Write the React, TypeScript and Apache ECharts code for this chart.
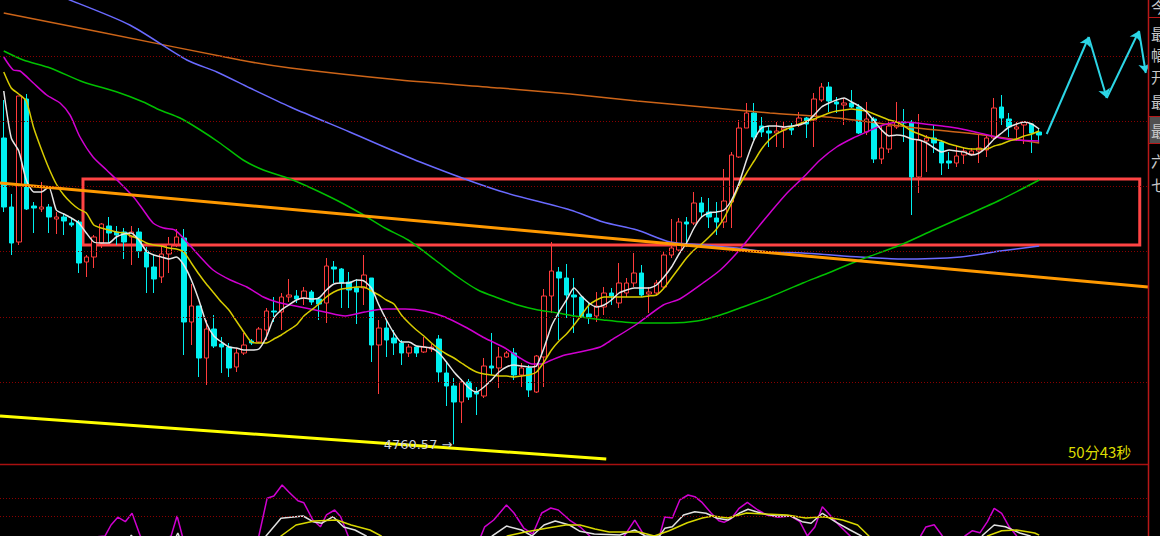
import React, { useEffect, useRef } from "react";
import * as echarts from "echarts";

const SLOTS = 153;
const categories = Array.from({ length: SLOTS }, (_, i) => String(i + 1));

// [open, close, low, high]
const candles = [
  [4791.2, 4784.3, 4783.8, 4795.0], [4784.3, 4780.7, 4779.5, 4785.6], [4780.8, 4795.4, 4780.5, 4795.4], [4795.1, 4784.1, 4784.0, 4795.6],
  [4784.4, 4784.2, 4781.7, 4784.8], [4784.1, 4784.3, 4783.8, 4786.8], [4784.3, 4783.3, 4781.7, 4784.6], [4783.1, 4783.3, 4781.6, 4783.8],
  [4783.3, 4782.9, 4781.5, 4783.7], [4782.7, 4782.5, 4782.3, 4783.2], [4782.8, 4778.7, 4777.7, 4783.0], [4778.8, 4779.3, 4777.3, 4779.5],
  [4779.3, 4781.3, 4778.2, 4781.5], [4780.7, 4782.6, 4780.2, 4782.7], [4782.4, 4781.7, 4780.7, 4783.3], [4781.8, 4781.5, 4780.5, 4782.4],
  [4781.8, 4780.8, 4779.1, 4782.2], [4781.3, 4781.8, 4778.5, 4782.4], [4781.8, 4779.9, 4779.2, 4782.2], [4779.9, 4778.3, 4775.7, 4780.3],
  [4778.3, 4777.1, 4775.7, 4779.5], [4777.3, 4779.6, 4776.7, 4780.5], [4779.6, 4780.5, 4777.7, 4781.3], [4780.6, 4781.3, 4780.3, 4782.1],
  [4781.2, 4772.8, 4769.5, 4782.1], [4772.8, 4774.4, 4770.5, 4776.6], [4774.4, 4769.2, 4767.3, 4774.4], [4769.2, 4772.1, 4766.5, 4773.0],
  [4772.1, 4770.4, 4770.2, 4773.5], [4770.6, 4770.3, 4767.7, 4771.3], [4770.3, 4768.2, 4767.3, 4770.7], [4768.3, 4769.7, 4767.8, 4770.2],
  [4769.7, 4770.5, 4769.5, 4771.7], [4770.9, 4770.7, 4770.5, 4771.1], [4770.8, 4772.1, 4770.7, 4772.3], [4772.0, 4773.9, 4771.0, 4774.2],
  [4773.9, 4773.8, 4772.8, 4775.3], [4773.8, 4775.3, 4772.0, 4775.7], [4775.3, 4775.5, 4774.8, 4777.1], [4775.4, 4775.1, 4774.7, 4776.0],
  [4775.2, 4775.9, 4774.5, 4776.3], [4775.8, 4774.8, 4774.5, 4776.0], [4775.1, 4774.6, 4773.0, 4775.3], [4774.7, 4778.4, 4772.7, 4779.2],
  [4778.3, 4778.1, 4776.7, 4778.9], [4778.1, 4776.7, 4774.2, 4778.2], [4776.8, 4776.0, 4774.2, 4777.8], [4776.2, 4775.8, 4772.6, 4777.1],
  [4776.2, 4777.5, 4774.5, 4779.5], [4777.2, 4770.5, 4768.8, 4777.2], [4770.5, 4772.2, 4765.6, 4773.0], [4772.2, 4771.0, 4769.3, 4773.0],
  [4771.2, 4770.7, 4769.5, 4772.0], [4770.7, 4769.7, 4768.5, 4771.0], [4769.7, 4770.3, 4769.3, 4770.6], [4770.3, 4769.7, 4769.3, 4770.3],
  [4769.8, 4770.3, 4769.7, 4771.3], [4770.1, 4770.3, 4769.8, 4770.6], [4771.1, 4767.8, 4766.8, 4771.5], [4767.7, 4766.4, 4764.4, 4768.8],
  [4766.4, 4764.8, 4760.57, 4767.2], [4764.8, 4766.8, 4762.7, 4767.1], [4766.8, 4765.3, 4765.0, 4767.1], [4765.8, 4765.6, 4763.5, 4766.3],
  [4765.4, 4768.4, 4765.2, 4769.2], [4768.4, 4768.2, 4767.5, 4771.7], [4768.2, 4769.3, 4766.2, 4770.3], [4769.3, 4769.7, 4769.2, 4769.9],
  [4769.7, 4767.5, 4767.0, 4770.2], [4767.5, 4768.2, 4766.3, 4768.7], [4768.2, 4766.0, 4765.3, 4768.5], [4765.8, 4769.4, 4765.7, 4769.5],
  [4769.3, 4775.4, 4766.3, 4776.1], [4775.4, 4777.9, 4773.7, 4780.8], [4777.8, 4777.2, 4771.0, 4778.3], [4777.2, 4775.5, 4773.2, 4778.6],
  [4775.5, 4775.3, 4771.7, 4777.2], [4775.3, 4773.3, 4773.2, 4775.4], [4773.6, 4773.3, 4772.6, 4774.7], [4773.4, 4774.4, 4772.8, 4775.8],
  [4774.3, 4775.7, 4773.5, 4776.3], [4775.7, 4775.4, 4774.5, 4776.2], [4774.7, 4776.7, 4774.2, 4778.7], [4775.7, 4776.7, 4775.3, 4777.2],
  [4776.7, 4777.7, 4776.3, 4779.7], [4777.7, 4775.5, 4775.3, 4778.5], [4775.6, 4775.8, 4773.7, 4776.3], [4775.7, 4776.7, 4775.5, 4777.0],
  [4776.3, 4779.5, 4776.2, 4779.8], [4779.5, 4780.2, 4779.2, 4783.1], [4780.0, 4782.8, 4779.8, 4783.2], [4782.8, 4782.6, 4780.3, 4783.3],
  [4782.7, 4784.7, 4782.5, 4785.8], [4784.7, 4783.8, 4783.3, 4785.3], [4783.8, 4783.3, 4782.2, 4785.2], [4783.2, 4782.8, 4781.5, 4784.8],
  [4782.8, 4784.9, 4782.2, 4788.1], [4784.8, 4789.5, 4782.2, 4789.8], [4789.3, 4792.2, 4789.2, 4793.0], [4792.2, 4793.7, 4792.2, 4794.7],
  [4793.7, 4791.3, 4791.0, 4794.7], [4792.4, 4791.8, 4791.3, 4793.3], [4791.9, 4791.7, 4790.3, 4792.4], [4791.7, 4791.9, 4790.3, 4792.8],
  [4792.0, 4792.2, 4790.2, 4792.8], [4792.2, 4792.0, 4791.5, 4792.7], [4792.5, 4793.2, 4792.3, 4793.8], [4793.2, 4792.6, 4791.2, 4793.3],
  [4793.0, 4795.1, 4790.3, 4795.7], [4795.0, 4796.3, 4794.8, 4796.7], [4796.3, 4794.9, 4793.8, 4796.8], [4794.8, 4794.6, 4793.7, 4795.3],
  [4794.5, 4794.7, 4792.5, 4795.2], [4794.7, 4794.3, 4794.2, 4796.0], [4794.3, 4791.7, 4791.6, 4794.6], [4791.8, 4793.1, 4791.5, 4794.8],
  [4793.1, 4789.1, 4788.7, 4793.3], [4789.1, 4790.2, 4788.6, 4792.5], [4790.1, 4792.4, 4789.7, 4793.0], [4792.3, 4792.8, 4792.1, 4794.8],
  [4792.8, 4792.7, 4790.8, 4794.1], [4792.8, 4787.3, 4783.5, 4793.0], [4787.3, 4791.0, 4785.7, 4793.6], [4790.9, 4791.2, 4787.8, 4791.5],
  [4791.2, 4790.7, 4789.7, 4792.5], [4790.8, 4788.7, 4787.5, 4791.0], [4788.9, 4788.7, 4788.1, 4789.8], [4788.7, 4789.4, 4788.3, 4790.4],
  [4789.5, 4789.9, 4788.6, 4790.3], [4789.6, 4789.9, 4789.4, 4790.2], [4789.9, 4790.2, 4788.7, 4791.5], [4790.0, 4791.2, 4789.3, 4791.5],
  [4791.2, 4794.2, 4791.0, 4795.2], [4794.3, 4793.2, 4792.5, 4795.5], [4793.1, 4792.3, 4791.3, 4793.7], [4792.1, 4792.3, 4790.9, 4792.8],
  [4792.5, 4792.8, 4790.6, 4792.9], [4792.6, 4791.7, 4789.7, 4792.7], [4791.8, 4791.5, 4790.7, 4792.1],
];

const ma5 = [
  4795.9, 4791.2, 4789.9, 4787.0, 4785.8, 4785.8, 4786.3, 4784.0, 4783.6, 4783.2,
  4782.7, 4781.7, 4780.8, 4780.7, 4780.7, 4781.3, 4781.6, 4781.7, 4781.0, 4779.9,
  4779.5, 4779.3, 4779.1, 4779.3, 4778.5, 4777.0, 4775.0, 4772.7, 4771.4, 4770.8,
  4770.3, 4770.2, 4770.0, 4770.0, 4770.1, 4771.3, 4773.2, 4774.0, 4774.5, 4775.0,
  4775.2, 4775.1, 4775.2, 4776.0, 4776.6, 4776.7, 4776.7, 4777.0, 4776.9, 4776.2,
  4774.5, 4773.0, 4771.7, 4770.8, 4770.8, 4770.4, 4770.3, 4770.2, 4769.7, 4768.8,
  4767.8, 4767.0, 4766.2, 4765.8, 4766.3, 4767.0, 4767.8, 4768.3, 4768.5, 4768.4,
  4768.3, 4768.4, 4770.2, 4772.4, 4773.8, 4775.0, 4776.2, 4775.4, 4774.7, 4774.3,
  4774.5, 4775.0, 4775.7, 4776.0, 4776.2, 4776.2, 4776.2, 4776.5, 4777.3, 4778.3,
  4779.6, 4780.7, 4782.2, 4783.3, 4783.7, 4783.8, 4784.0, 4785.0, 4786.7, 4789.0,
  4791.0, 4792.2, 4792.4, 4792.4, 4792.3, 4792.4, 4792.5, 4792.8, 4793.5, 4794.3,
  4794.7, 4795.0, 4795.2, 4794.8, 4794.4, 4793.8, 4792.9, 4792.0, 4791.4, 4791.5,
  4791.4, 4791.1, 4791.0, 4790.7, 4790.2, 4789.8, 4790.0, 4789.9, 4789.8, 4789.5,
  4789.7, 4790.3, 4791.1, 4791.7, 4792.3, 4792.6, 4792.8, 4792.6, 4792.1,
];

const ma10 = [
  4797.8, 4796.2, 4795.6, 4794.9, 4792.2, 4790.1, 4788.2, 4786.6, 4785.5, 4784.7,
  4784.1, 4783.7, 4782.5, 4782.2, 4782.0, 4781.8, 4781.7, 4781.4, 4781.1, 4780.7,
  4780.5, 4780.4, 4780.2, 4780.1, 4779.8, 4778.7, 4777.6, 4776.6, 4775.7, 4774.8,
  4774.0, 4772.9, 4771.8, 4770.8, 4770.7, 4770.7, 4771.1, 4771.5, 4772.0, 4772.5,
  4773.4, 4774.0, 4774.6, 4775.3, 4775.8, 4776.1, 4776.2, 4776.3, 4776.3, 4775.9,
  4775.5, 4775.0, 4774.6, 4773.5, 4772.7, 4772.0, 4771.4, 4770.7, 4770.1, 4769.6,
  4769.2, 4768.7, 4768.2, 4767.8, 4767.6, 4767.5, 4767.4, 4767.4, 4767.3, 4767.4,
  4767.5, 4767.8, 4768.8, 4770.0, 4770.9, 4771.6, 4772.5, 4773.5, 4774.5, 4775.0,
  4775.3, 4775.3, 4775.3, 4775.3, 4775.3, 4775.3, 4775.4, 4775.5, 4776.2, 4777.2,
  4778.2, 4779.2, 4780.0, 4780.6, 4781.3, 4782.1, 4783.2, 4784.7, 4786.4, 4787.7,
  4788.9, 4790.1, 4791.0, 4791.6, 4792.0, 4792.3, 4792.6, 4792.9, 4793.1, 4793.4,
  4793.7, 4793.9, 4794.0, 4794.1, 4794.0, 4793.9, 4793.6, 4793.3, 4793.0, 4792.8,
  4792.4, 4791.9, 4791.6, 4791.3, 4791.1, 4790.9, 4790.6, 4790.4, 4790.2, 4790.1,
  4790.1, 4790.1, 4790.4, 4790.6, 4790.9, 4791.1, 4791.4, 4791.6, 4791.9,
];

// [bar index, price]
const ma20 = [
  [0, 4799.3], [1.27, 4798.0], [2.17, 4797.9], [3.94, 4796.7], [5.72, 4795.5], [7.5, 4794.7], [8.83, 4793.5],
  [10.16, 4791.3], [11.9, 4789.3], [13.7, 4788.0], [15.5, 4786.7], [17.3, 4785.3], [18.6, 4784.0], [19.9, 4782.7],
  [21.3, 4782.2], [22.8, 4782.0], [24.4, 4780.8], [26.2, 4779.3], [27.9, 4778.0], [30.2, 4777.0], [32.4, 4776.3],
  [34.6, 4775.3], [36.4, 4774.8], [38.2, 4774.5], [40.2, 4774.2], [42.8, 4773.8], [45.5, 4773.4], [48.1, 4773.8],
  [50.8, 4774.1], [53.5, 4774.1], [56.1, 4773.9], [58.8, 4773.3], [61.5, 4772.3], [64.1, 4771.2], [66.8, 4770.2],
  [68.6, 4769.3], [70.4, 4768.6], [71.7, 4768.6], [73.0, 4769.0], [74.8, 4769.5], [76.1, 4769.7], [79.5, 4770.3],
  [80.8, 4770.9], [84.4, 4772.6], [87.9, 4774.5], [90.1, 4775.1], [93.2, 4776.7], [95.5, 4778.0], [97.7, 4779.7],
  [99.9, 4781.7], [102.1, 4783.7], [104.4, 4785.7], [106.6, 4787.3], [108.8, 4789.0], [111.0, 4790.3], [113.2, 4791.2],
  [115.0, 4791.8], [117.2, 4792.5], [119.5, 4792.8], [121.7, 4792.7], [123.9, 4792.5], [126.1, 4792.3], [128.3, 4792.0],
  [130.6, 4791.6], [132.8, 4791.2], [135.0, 4791.0], [138, 4790.9],
];

const ma60 = [
  [0, 4799.9], [2.6, 4799.0], [6.2, 4798.2], [10.6, 4796.8], [15.1, 4795.8], [18.6, 4794.8], [20.8, 4794.0],
  [23.5, 4793.2], [26.2, 4792.0], [28.8, 4790.7], [31.9, 4789.0], [34.6, 4788.0], [38.2, 4787.1], [43.5, 4785.3],
  [47.5, 4783.7], [50.8, 4782.2], [53.9, 4781.0], [57.5, 4779.0], [60.5, 4777.3], [63.2, 4776.0], [65.9, 4775.2],
  [68.5, 4774.5], [71.2, 4774.0], [73.9, 4773.7], [76.1, 4773.4], [79.9, 4773.0], [84.4, 4772.7], [88.8, 4772.7],
  [92.4, 4772.9], [95.5, 4773.5], [98.5, 4774.3], [102.1, 4775.3], [106.5, 4776.7], [109.2, 4777.5], [114.1, 4779.0],
  [119.5, 4780.5], [123.9, 4782.0], [128.4, 4783.5], [132.8, 4785.0], [138, 4787.0],
];

const ma120 = [
  [0, 4807.5], [8.8, 4805.0], [16.8, 4802.5], [24.4, 4799.0], [28.4, 4797.8], [32.8, 4796.2], [38.2, 4794.3],
  [46.1, 4791.8], [55.5, 4788.8], [66.1, 4785.9], [75.5, 4784.0], [79.9, 4782.8], [84.4, 4782.0], [88.8, 4780.8],
  [93.2, 4780.5], [97.7, 4780.2], [102.1, 4779.8], [106.5, 4779.7], [114.1, 4779.3], [119.5, 4779.1], [127.5, 4779.3],
  [132.8, 4779.9], [138, 4780.4],
];

const ma250 = [
  [0, 4803.7], [12.8, 4801.8], [31.5, 4799.0], [38.2, 4798.2], [52.8, 4797.0], [66.1, 4796.2], [75.5, 4795.6],
  [84.4, 4794.9], [93.2, 4794.3], [102.1, 4793.7], [111.0, 4793.2], [121.7, 4792.2], [130.5, 4791.5], [138, 4790.7],
];

// drawn annotations
const orangeTrend = [[-0.5, 4786.7], [152.5, 4776.3]];
const yellowTrend = [[-0.5, 4763.4], [80.3, 4759.1]];
const zoneBox = [[10.56, 4787.1], [151.4, 4780.5]];
const zigzag = [[139.0, 4791.6], [144.6, 4801.3], [147.0, 4795.2], [151.3, 4801.9], [152.2, 4797.7]];
const lowLabel = { index: 60, price: 4760.57, text: "4760.57 →" };
const priceGrid = [4799.4, 4792.9, 4786.4, 4779.9, 4773.3, 4766.8];

// lower indicator panel
const subGrid = [80, 50];
const kLine = [
  [0, 0], [16.2, 0], [17.0, 18.3], [17.8, 0], [22.4, 0], [23.2, 21.7], [23.9, 0], [34.4, 0], [34.95, 16.7], [36.95, 46.2],
  [39.9, 50], [41.2, 40.5], [42.4, 38], [43.9, 48.8], [45.3, 31.7], [46.8, 26.7], [48.3, 16.7], [49.1, 0], [64.1, 0],
  [65.1, 16.7], [67.0, 33.3], [69.0, 26.7], [70.4, 16.7], [72.0, 35], [73.5, 41.7], [75.4, 35], [76.8, 24.5], [78.7, 20],
  [82.1, 18.3], [84.1, 26.7], [85.5, 16.7], [87.4, 16.7], [88.1, 29.5], [89.1, 32], [90.6, 51.7], [92.1, 57.2], [93.6, 54.5],
  [95.1, 46.2], [96.5, 43.3], [98.0, 54.5], [99.2, 61.2], [100.97, 54.5], [102.9, 50], [104.9, 50], [106.4, 40.5],
  [107.6, 38], [109.1, 54.5], [110.8, 40.5], [112.8, 26.7], [114.3, 16.7], [115.5, 0], [129.5, 0], [130.5, 18.3],
  [132.0, 35], [133.5, 32], [135.4, 21.7], [136.8, 16.7], [138, 5],
];
const dLine = [
  [0, 0], [36.2, 0], [36.95, 16.7], [38.95, 35], [41.4, 41.7], [44.4, 43.3], [46.3, 35], [48.8, 26.7], [50.3, 16.7],
  [51.5, 0], [66.1, 0], [67.1, 16.7], [69.5, 23.3], [72.5, 30], [74.9, 35], [76.8, 35], [78.8, 28.3], [80.7, 23.3],
  [84.7, 23.3], [86.7, 16.7], [88.6, 25], [91.1, 38.7], [93.1, 46.7], [94.5, 50], [96.5, 46.7], [99.0, 55], [101.5, 53.3],
  [104.4, 51.7], [106.9, 46.7], [109.3, 48.8], [111.8, 43.3], [113.8, 35], [115.3, 16.7], [116.8, 0], [130.1, 0],
  [131.1, 16.7], [133.0, 25.5], [135.0, 26.7], [137.4, 21.7], [138, 18],
];
const jLine = [
  [0, 0], [13.5, 16.7], [14.3, 35], [15.2, 48], [16.2, 40.5], [17.1, 54.5], [18.2, 16.7], [19.5, 0], [22.3, 16.7],
  [23.1, 50], [23.8, 16.7], [24.8, 0], [32.8, 0], [34.0, 16.7], [35.1, 79.5], [36.0, 83.3], [37.1, 101.7], [37.96, 90.5],
  [39.2, 75.5], [40.0, 72], [41.2, 43.3], [42.2, 32], [43.0, 51.7], [44.1, 60], [44.9, 48.8], [45.9, 16.7], [46.8, 0],
  [62.8, 0], [63.6, 16.7], [64.1, 32], [65.3, 43.3], [67.0, 68.3], [68.0, 55], [69.3, 30], [70.5, 20], [71.7, 55],
  [72.9, 63.3], [73.9, 60], [75.4, 43.3], [76.8, 32], [78.1, 16.7], [79.5, 0], [82.0, 0], [82.7, 16.7], [84.1, 43],
  [85.4, 16.7], [86.4, 0], [87.4, 16.7], [88.1, 48.3], [89.1, 46.7], [90.1, 76.7], [91.2, 85], [92.1, 82.2], [93.1, 72.2],
  [94.3, 54.5], [95.3, 42], [96.0, 39.5], [97.0, 46.2], [98.0, 62.8], [99.1, 72.8], [100.5, 60], [101.7, 51.7],
  [103.2, 47.8], [104.9, 50], [106.1, 40.5], [107.1, 16.7], [108.1, 31.7], [109.1, 65.5], [110.1, 51.7], [111.3, 35],
  [112.8, 16.7], [114.1, 0], [121.5, 0], [122.2, 16.7], [122.9, 31.7], [124.0, 35.5], [125.1, 16.7], [126.1, 0],
  [127.5, 0], [128.1, 16.7], [129.1, 25.5], [130.1, 22], [131.1, 40.5], [132.0, 62.8], [133.0, 54.5], [134.0, 32],
  [135.0, 16.7], [136.1, 0], [138, 0],
];

const sideLabels = ["今", "最", "幅", "开", "最", "最", "六", "七"];
const timerText = "50分43秒";

export default function App() {
  const ref = useRef<HTMLDivElement>(null);
  useEffect(() => {
    if (!ref.current) return;
    const chart = echarts.init(ref.current, null, { renderer: "svg" });
    const W = 1148;
    const lineS = (name: string, data: any, color: string, width = 1.5, extra: any = {}) => ({
      name,
      type: "line",
      xAxisIndex: 1,
      yAxisIndex: 0,
      data,
      showSymbol: false,
      symbol: "none",
      smooth: 0.25,
      z: 3,
      lineStyle: { color, width },
      ...extra,
    });
    const sideY = [6, 33, 54, 76, 101, 130, 160, 184];
    const option: any = {
      animation: false,
      backgroundColor: "#000",
      grid: [
        { left: 0, top: 0, width: W, height: 464 },
        { left: 0, top: 464, width: W, height: 72 },
      ],
      xAxis: [
        { type: "category", gridIndex: 0, data: categories, boundaryGap: true, show: false },
        { type: "value", gridIndex: 0, min: -0.5, max: SLOTS - 0.5, show: false },
        { type: "value", gridIndex: 1, min: -0.5, max: SLOTS - 0.5, show: false },
      ],
      yAxis: [
        { type: "value", gridIndex: 0, min: 4758.6, max: 4805.0, show: false, splitLine: { show: false } },
        { type: "value", gridIndex: 1, min: 16.67, max: 136.67, show: false, splitLine: { show: false } },
      ],
      series: [
        {
          name: "grid",
          type: "line",
          xAxisIndex: 1,
          yAxisIndex: 0,
          data: [[-0.5, 4700]],
          showSymbol: false,
          lineStyle: { opacity: 0 },
          z: 1,
          markLine: {
            silent: true,
            symbol: "none",
            label: { show: false },
            lineStyle: { color: "#8a0000", width: 1, type: [1, 2] },
            data: priceGrid.map((v) => ({ yAxis: v })),
          },
        },
        {
          name: "subgrid",
          type: "line",
          xAxisIndex: 2,
          yAxisIndex: 1,
          data: [[-0.5, -100]],
          showSymbol: false,
          lineStyle: { opacity: 0 },
          z: 1,
          markLine: {
            silent: true,
            symbol: "none",
            label: { show: false },
            lineStyle: { color: "#8a0000", width: 1, type: [1, 2] },
            data: subGrid.map((v) => ({ yAxis: v })),
          },
        },
        lineS("MA250", ma250, "#cc6418", 1.5),
        lineS("MA120", ma120, "#6a6aff", 1.5),
        lineS("MA60", ma60, "#00c000", 1.5),
        {
          name: "K",
          type: "candlestick",
          xAxisIndex: 0,
          yAxisIndex: 0,
          data: candles,
          barWidth: 5,
          z: 2,
          itemStyle: {
            color: "#000",
            color0: "#00f0f0",
            borderColor: "#ff3c3c",
            borderColor0: "#00f0f0",
            borderWidth: 1,
          },
          markPoint: {
            symbol: "circle",
            symbolSize: 1,
            itemStyle: { color: "rgba(0,0,0,0)" },
            label: {
              show: true,
              position: "left",
              distance: 1,
              formatter: lowLabel.text,
              color: "#c8cede",
              fontSize: 13,
              fontFamily: "DejaVu Sans, sans-serif",
            },
            data: [{ coord: [lowLabel.index, lowLabel.price] }],
          },
        },
        lineS("MA20", ma20, "#d000d0", 1.5),
        {
          name: "MA10",
          type: "line",
          xAxisIndex: 0,
          yAxisIndex: 0,
          data: ma10,
          showSymbol: false,
          smooth: 0.2,
          z: 3,
          lineStyle: { color: "#d8cc00", width: 1.5 },
        },
        {
          name: "MA5",
          type: "line",
          xAxisIndex: 0,
          yAxisIndex: 0,
          data: ma5,
          showSymbol: false,
          smooth: 0.2,
          z: 3,
          lineStyle: { color: "#e6e6e6", width: 1.5 },
        },
        lineS("trend1", yellowTrend, "#ffff00", 3, { smooth: false, z: 4 }),
        lineS("trend2", orangeTrend, "#ff9900", 3, {
          smooth: false,
          z: 4,
          markArea: {
            silent: true,
            itemStyle: { color: "rgba(0,0,0,0)", borderColor: "#ff4444", borderWidth: 3 },
            data: [[{ coord: zoneBox[0] }, { coord: zoneBox[1] }]],
          },
        }),
        {
          name: "arrows",
          type: "lines",
          coordinateSystem: "cartesian2d",
          xAxisIndex: 1,
          yAxisIndex: 0,
          z: 5,
          symbol: ["none", "arrow"],
          symbolSize: 9,
          lineStyle: { color: "#2cd6e6", width: 2, opacity: 1, curveness: 0 },
          data: zigzag.slice(1).map((p, i) => ({ coords: [zigzag[i], p] })),
        },
        {
          name: "J",
          type: "line",
          xAxisIndex: 2,
          yAxisIndex: 1,
          data: jLine,
          showSymbol: false,
          z: 3,
          lineStyle: { color: "#d000d0", width: 1.5 },
        },
        {
          name: "Kd",
          type: "line",
          xAxisIndex: 2,
          yAxisIndex: 1,
          data: kLine,
          showSymbol: false,
          z: 3,
          lineStyle: { color: "#e0e0e0", width: 1.5 },
        },
        {
          name: "D",
          type: "line",
          xAxisIndex: 2,
          yAxisIndex: 1,
          data: dLine,
          showSymbol: false,
          z: 3,
          lineStyle: { color: "#d8d800", width: 1.5 },
        },
      ],
      graphic: [
        { type: "line", shape: { x1: 0, y1: 464.5, x2: W, y2: 464.5 }, style: { stroke: "#a81010", lineWidth: 1.5 }, z: 10 },
        { type: "line", shape: { x1: W + 0.5, y1: 0, x2: W + 0.5, y2: 536 }, style: { stroke: "#b81818", lineWidth: 1.5 }, z: 10 },
        { type: "line", shape: { x1: W, y1: 17.5, x2: 1160, y2: 17.5 }, style: { stroke: "#b81818", lineWidth: 1 }, z: 10 },
        { type: "rect", shape: { x: W + 1.5, y: 117, width: 12, height: 26 }, style: { fill: "#505050" }, z: 9 },
        { type: "line", shape: { x1: W, y1: 116.5, x2: 1160, y2: 116.5 }, style: { stroke: "#b81818", lineWidth: 1 }, z: 10 },
        { type: "line", shape: { x1: W, y1: 143.5, x2: 1160, y2: 143.5 }, style: { stroke: "#b81818", lineWidth: 1 }, z: 10 },
        ...sideLabels.map((t, i) => ({
          type: "text",
          x: 1151,
          y: sideY[i],
          z: 11,
          style: {
            text: t,
            fill: "#c8c8c8",
            font: '15px "Noto Sans CJK SC"',
            textVerticalAlign: "middle",
          },
        })),
        {
          type: "text",
          x: 1068,
          y: 451,
          z: 11,
          style: {
            text: timerText,
            fill: "#dcdc00",
            font: '15px "Noto Sans CJK SC"',
            textVerticalAlign: "middle",
          },
        },
      ],
    };
    chart.setOption(option);
    return () => chart.dispose();
  }, []);
  return (
    <div
      ref={ref}
      style={{ position: "fixed", left: 0, top: 0, width: 1160, height: 536, background: "#000" }}
    />
  );
}
